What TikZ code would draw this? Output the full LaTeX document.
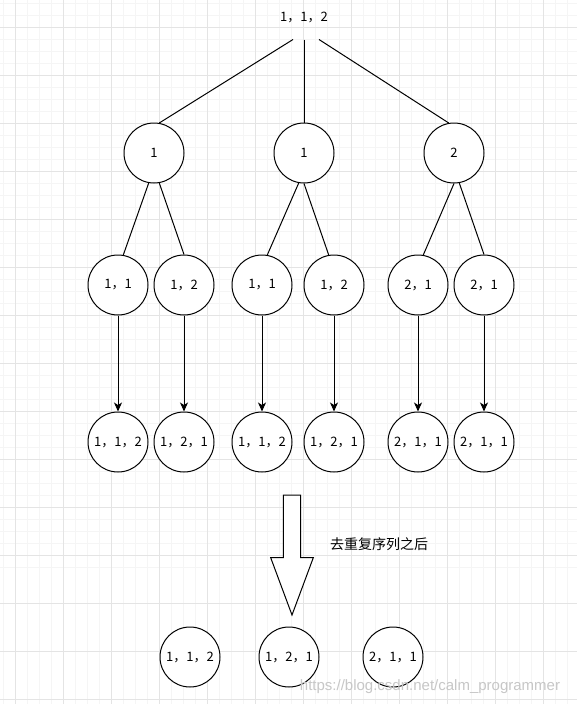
\documentclass[tikz,border=0pt]{standalone}
\usepackage{fontspec}
\setmainfont{Noto Sans CJK SC}
\newfontfamily\markfont{Liberation Sans}
\usetikzlibrary{positioning}
\usetikzlibrary{arrows.meta}
\definecolor{gridmajor}{RGB}{228,228,228}
\definecolor{gridminor}{RGB}{245,245,245}

\begin{document}
\begin{tikzpicture}[x=1pt, y=-1pt, line width=1pt,
    perm/.style={draw, circle, minimum size=60pt, inner sep=0pt, fill=white, font=\fontsize{13}{15}\selectfont},
    lbl/.style={font=\fontsize{13}{15}\selectfont},
    pick/.style={-{Stealth[length=9pt, width=8pt, inset=2.5pt]}}]
        \useasboundingbox (0,0) rectangle (577,704); %
        \fill[white] (0,0) rectangle (577,704); %
        % background grid
        \foreach \g in {0,...,47} {
            \draw[gridminor] (3.3+12*\g,0) -- (3.3+12*\g,704);
            \draw[gridminor] (0,3.3+12*\g) -- (577,3.3+12*\g);
        }
        \foreach \g in {0,...,14} {
            \draw[gridmajor] (15.3+48*\g,0) -- (15.3+48*\g,704);
            \draw[gridmajor] (0,27.3+48*\g) -- (577,27.3+48*\g);
        }
        % first choice
        \node[lbl, minimum height=44pt] (root) at (304,17) {1，1，2}; %
        \node[perm] (one1) at (154,153) {1}; %
        \node[perm] (one2) at (304,153) {1}; %
        \node[perm] (one3) at (454,153) {2}; %
        \draw ([xshift=-11pt]root.south) -- (one1.80); %
        \draw (root.south) -- (one2.north); %
        \draw ([xshift=15pt]root.south) -- (one3.100); %
        % second choice
        \node[perm] (two1) at (118,285) {1，1}; %
        \node[perm] (two2) at (184,285) {1，2}; %
        \node[perm] (two3) at (262,285) {1，1}; %
        \node[perm] (two4) at (334,285) {1，2}; %
        \node[perm] (two5) at (418,285) {2，1}; %
        \node[perm] (two6) at (484,285) {2，1}; %
        \draw (one1.-100) -- (two1.80); %
        \draw (one1.-80) -- (two2.north); %
        \draw (one2.-100) -- (two3.80); %
        \draw (one2.south) -- (two4.100); %
        \draw (one3.south) -- (two5.80); %
        \draw (one3.-80) -- (two6.north); %
        % full sequences
        \node[perm, below=96pt of two1] (all1) {1，1，2}; %
        \node[perm, below=96pt of two2] (all2) {1，2，1}; %
        \node[perm, below=96pt of two3] (all3) {1，1，2}; %
        \node[perm, below=96pt of two4] (all4) {1，2，1}; %
        \node[perm, below=96pt of two5] (all5) {2，1，1}; %
        \node[perm, below=96pt of two6] (all6) {2，1，1}; %
        \draw[pick] (two1) -- (all1); %
        \draw[pick] (two2) -- (all2); %
        \draw[pick] (two3) -- (all3); %
        \draw[pick] (two4) -- (all4); %
        \draw[pick] (two5) -- (all5); %
        \draw[pick] (two6) -- (all6); %
        % remove duplicates
        \draw[fill=white] (283.3,495) -- (300.7,495) -- (300.7,557.7) -- (313.3,557.7)
            -- (292,615) -- (270.7,557.7) -- (283.3,557.7) -- cycle; %
        \node[font=\fontsize{14}{16}\selectfont] (dedup) at (379,544) {去重复序列之后}; %
        \node[perm] (uniq1) at (190,657) {1，1，2}; %
        \node[perm] (uniq2) at (289,657) {1，2，1}; %
        \node[perm] (uniq3) at (393,657) {2，1，1}; %
        \node[font=\markfont\fontsize{15}{17}\selectfont, text=black!22] (mark) at (430,687) {https://blog.csdn.net/calm\_programmer}; %
\end{tikzpicture}
\end{document}
